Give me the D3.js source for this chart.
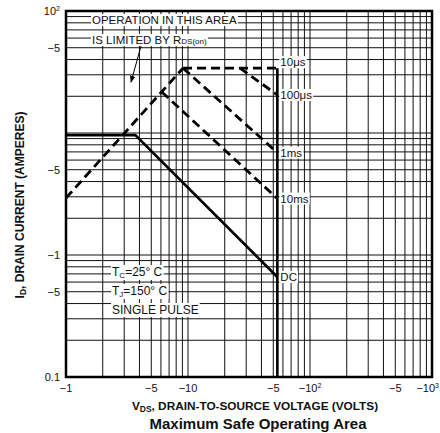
<!DOCTYPE html>
<html>
<head>
<meta charset="utf-8">
<script src="https://cdn.jsdelivr.net/npm/d3@7"></script>
<style>
  body { margin: 0; background: #fff; }
  svg text { font-family: "Liberation Sans", Arial, sans-serif; fill: #111; }
</style>
</head>
<body>
<svg id="the-svg" width="440" height="433"></svg>
<script>
// axis ticks (magnitudes, drawn as negative labels like the datasheet)
var xTickVals = [1, 5, 10, 50, 100, 500, 1000];
var xTickLabels = ["\u22121", "\u22125", "\u221210", "\u22125", "\u221210|2", "\u22125", "\u221210|3"];
var yTickVals = [0.1, 0.5, 1, 5, 50, 100];
var yTickLabels = ["0.1", "\u22125", "\u22121", "\u22125", "\u22125", "10|2"];

// boundary curves: VDS (volts) / ID (amperes)
var dcV = [1, 3.7, 54],    dcI = [9.6, 9.6, 0.66];
var rdsV = [1, 9.1],       rdsI = [2.93, 34];
var us10V = [9.1, 54],     us10I = [34, 34];
var us100V = [26.7, 54],   us100I = [34, 20.5];
var ms1V = [9.1, 54],      ms1I = [34, 6.9];
var ms10V = [6.1, 54],     ms10I = [21.7, 2.9];
var bvV = [54, 54],        bvI = [34, 0.1];

var curveNames = ["10\u03bcs", "100\u03bcs", "1ms", "10ms", "DC"];
var curveEndI = [34, 20.5, 6.9, 2.9, 0.66];

// arrow pointing at the RDS(on) limit
var arrowV = [4.12, 3.41], arrowI = [51.6, 26.1];

var svg = d3.select("#the-svg");
var x = d3.scaleLog().domain([1, 1000]).range([66, 432]);
var y = d3.scaleLog().domain([0.1, 100]).range([377, 11]);

var zip = function(vs, is) {
    return vs.map(function(v, i) { return [v, is[i]]; });
};
var line = d3.line()
    .x(function(d) { return x(d[0]); })
    .y(function(d) { return y(d[1]); });

// grid
var grid = svg.append("g").attr("class", "grid");
grid.selectAll(".vx").data(x.ticks()).enter().append("line")
    .attr("x1", function(d) { return x(d); })
    .attr("x2", function(d) { return x(d); })
    .attr("y1", y(0.1)).attr("y2", y(100))
    .attr("stroke", "#111").attr("stroke-width", 1);
grid.selectAll(".hy").data(y.ticks()).enter().append("line")
    .attr("y1", function(d) { return y(d); })
    .attr("y2", function(d) { return y(d); })
    .attr("x1", x(1)).attr("x2", x(1000))
    .attr("stroke", "#111").attr("stroke-width", 1);

// label with superscript, "base|sup"
var putLabel = function(sel, s) {
    var parts = s.split("|");
    sel.text(parts[0]);
    if (parts.length > 1) {
        sel.append("tspan").attr("dy", -4).attr("font-size", 7).text(parts[1]);
    }
};

// tick labels
svg.append("g").selectAll("text").data(xTickVals).enter().append("text")
    .attr("x", function(d, i) { return i === xTickVals.length - 1 ? 439 : x(d); })
    .attr("y", 392)
    .attr("text-anchor", function(d, i) { return i === xTickVals.length - 1 ? "end" : "middle"; })
    .attr("font-size", 11)
    .each(function(d, i) { putLabel(d3.select(this), xTickLabels[i]); });
svg.append("g").selectAll("text").data(yTickVals).enter().append("text")
    .attr("x", 60)
    .attr("y", function(d) { return y(d) + 4; })
    .attr("text-anchor", "end")
    .attr("font-size", 11)
    .each(function(d, i) { putLabel(d3.select(this), yTickLabels[i]); });

// boundary lines
var curves = svg.append("g");
[[rdsV, rdsI], [us10V, us10I], [us100V, us100I], [ms1V, ms1I], [ms10V, ms10I]].forEach(function(c) {
    curves.append("path").attr("d", line(zip(c[0], c[1])))
        .attr("fill", "none").attr("stroke", "#000")
        .attr("stroke-width", 2.8).attr("stroke-dasharray", "9,5");
});
[[dcV, dcI], [bvV, bvI]].forEach(function(c) {
    curves.append("path").attr("d", line(zip(c[0], c[1])))
        .attr("fill", "none").attr("stroke", "#000")
        .attr("stroke-width", 2.6);
});

// text with white box behind it
var boxText = function(px, py, str, size, anchor) {
    var g = svg.append("g");
    var r = g.append("rect").attr("fill", "#fff");
    var t = g.append("text").attr("x", px).attr("y", py)
        .attr("font-size", size).attr("text-anchor", anchor || "start");
    var b;
    if (typeof str === "function") { str(t); } else { t.text(str); }
    b = t.node().getBBox();
    r.attr("x", b.x - 1).attr("y", b.y).attr("width", b.width + 2).attr("height", b.height);
    return t;
};

// curve end labels
curveNames.forEach(function(n, i) {
    var off = i === 0 ? -2 : 4;
    boxText(x(54) + 3, y(curveEndI[i]) + off, n, 11.5);
});

// annotation
boxText(92, 24, "OPERATION IN THIS AREA", 11.5);
boxText(92, 44, function(t) {
    t.text("IS LIMITED BY R");
    t.append("tspan").attr("font-size", 8).text("DS(on)");
}, 11.5);
svg.append("defs").append("marker")
    .attr("id", "arr").attr("viewBox", "0 0 10 10")
    .attr("refX", 9).attr("refY", 5)
    .attr("markerWidth", 7).attr("markerHeight", 7)
    .attr("orient", "auto")
    .append("path").attr("d", "M0,1 L10,5 L0,9 Z").attr("fill", "#000");
svg.append("path").attr("d", line(zip(arrowV, arrowI)))
    .attr("stroke", "#000").attr("stroke-width", 1)
    .attr("marker-end", "url(#arr)");

// conditions
boxText(112, 276, function(t) {
    t.text("T");
    t.append("tspan").attr("font-size", 8).attr("dy", 2).text("C");
    t.append("tspan").attr("dy", -2).text("=25\u00b0 C");
}, 12);
boxText(112, 295, function(t) {
    t.text("T");
    t.append("tspan").attr("font-size", 8).attr("dy", 2).text("J");
    t.append("tspan").attr("dy", -2).text("=150\u00b0 C");
}, 12);
boxText(112, 314, "SINGLE PULSE", 12);

// frame
svg.append("rect")
    .attr("x", x(1)).attr("y", y(100))
    .attr("width", x(1000) - x(1)).attr("height", y(0.1) - y(100))
    .attr("fill", "none").attr("stroke", "#000").attr("stroke-width", 2.5);

// titles
var yt = svg.append("text")
    .attr("transform", "translate(24,205) rotate(-90)")
    .attr("text-anchor", "middle")
    .attr("font-size", 12).attr("font-weight", "bold");
yt.text("I");
yt.append("tspan").attr("font-size", 8.5).attr("dy", 2).text("D");
yt.append("tspan").attr("dy", -2).text(", DRAIN CURRENT (AMPERES)");

var xt = svg.append("text")
    .attr("x", 255).attr("y", 410)
    .attr("text-anchor", "middle")
    .attr("font-size", 11.8).attr("font-weight", "bold");
xt.text("V");
xt.append("tspan").attr("font-size", 8.5).attr("dy", 2).text("DS");
xt.append("tspan").attr("dy", -2).text(", DRAIN-TO-SOURCE VOLTAGE (VOLTS)");

svg.append("text")
    .attr("x", 258).attr("y", 429)
    .attr("text-anchor", "middle")
    .attr("font-size", 15).attr("font-weight", "bold")
    .text("Maximum Safe Operating Area");
</script>
</body>
</html>
